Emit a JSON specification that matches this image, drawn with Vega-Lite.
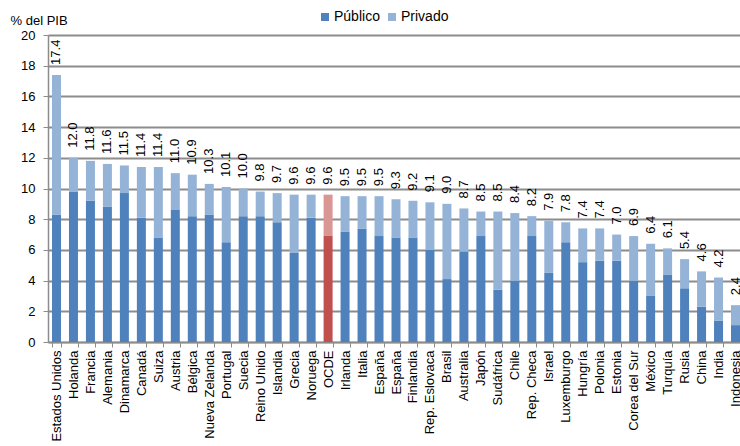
{
  "$schema": "https://vega.github.io/schema/vega-lite/v6.json",
  "autosize": {"type": "none"},
  "padding": {"left": 48, "top": 35, "right": 0, "bottom": 104},
  "width": 696,
  "height": 307,
  "config": {
    "font": "Liberation Sans",
    "view": {"stroke": null},
    "axis": {"labelColor": "#000", "titleColor": "#000", "labelFontSize": 13, "titleFontSize": 13, "titleFontWeight": "normal"},
    "axisY": {
      "title": "% del PIB",
      "titleAngle": 0,
      "titleAlign": "left",
      "titleBaseline": "middle",
      "titleX": -38,
      "titleY": -15,
      "values": [0, 2, 4, 6, 8, 10, 12, 14, 16, 18, 20],
      "labelOverlap": false,
      "grid": true,
      "gridColor": "#8c8c8c",
      "gridWidth": 2,
      "domainColor": "#8c8c8c",
      "domainWidth": 1.5,
      "tickColor": "#8c8c8c",
      "tickSize": 5,
      "labelPadding": 8
    },
    "legend": {"labelFontSize": 14, "labelColor": "#000"}
  },
  "data": {
    "values": [
      {"pais": "Estados Unidos", "Público": 8.3, "Privado": 9.1, "total": 17.4},
      {"pais": "Holanda", "Público": 9.8, "Privado": 2.2, "total": 12.0},
      {"pais": "Francia", "Público": 9.2, "Privado": 2.6, "total": 11.8},
      {"pais": "Alemania", "Público": 8.8, "Privado": 2.8, "total": 11.6},
      {"pais": "Dinamarca", "Público": 9.7, "Privado": 1.8, "total": 11.5},
      {"pais": "Canadá", "Público": 8.1, "Privado": 3.3, "total": 11.4},
      {"pais": "Suiza", "Público": 6.8, "Privado": 4.6, "total": 11.4},
      {"pais": "Austria", "Público": 8.6, "Privado": 2.4, "total": 11.0},
      {"pais": "Bélgica", "Público": 8.2, "Privado": 2.7, "total": 10.9},
      {"pais": "Nueva Zelanda", "Público": 8.3, "Privado": 2.0, "total": 10.3},
      {"pais": "Portugal", "Público": 6.5, "Privado": 3.6, "total": 10.1},
      {"pais": "Suecia", "Público": 8.2, "Privado": 1.8, "total": 10.0},
      {"pais": "Reino Unido", "Público": 8.2, "Privado": 1.6, "total": 9.8},
      {"pais": "Islandia", "Público": 7.8, "Privado": 1.9, "total": 9.7},
      {"pais": "Grecia", "Público": 5.8, "Privado": 3.8, "total": 9.6},
      {"pais": "Noruega", "Público": 8.1, "Privado": 1.5, "total": 9.6},
      {"pais": "OCDE", "Público": 6.9, "Privado": 2.7, "total": 9.6},
      {"pais": "Irlanda", "Público": 7.2, "Privado": 2.3, "total": 9.5},
      {"pais": "Italia", "Público": 7.4, "Privado": 2.1, "total": 9.5},
      {"pais": "España", "Público": 6.9, "Privado": 2.6, "total": 9.5},
      {"pais": "España\u200b", "Público": 6.8, "Privado": 2.5, "total": 9.3},
      {"pais": "Finlandia", "Público": 6.8, "Privado": 2.4, "total": 9.2},
      {"pais": "Rep. Eslovaca", "Público": 6.0, "Privado": 3.1, "total": 9.1},
      {"pais": "Brasil", "Público": 4.1, "Privado": 4.9, "total": 9.0},
      {"pais": "Australia", "Público": 5.9, "Privado": 2.8, "total": 8.7},
      {"pais": "Japón", "Público": 6.9, "Privado": 1.6, "total": 8.5},
      {"pais": "Sudáfrica", "Público": 3.4, "Privado": 5.1, "total": 8.5},
      {"pais": "Chile", "Público": 4.0, "Privado": 4.4, "total": 8.4},
      {"pais": "Rep. Checa", "Público": 6.9, "Privado": 1.3, "total": 8.2},
      {"pais": "Israel", "Público": 4.5, "Privado": 3.4, "total": 7.9},
      {"pais": "Luxemburgo", "Público": 6.5, "Privado": 1.3, "total": 7.8},
      {"pais": "Hungría", "Público": 5.2, "Privado": 2.2, "total": 7.4},
      {"pais": "Polonia", "Público": 5.3, "Privado": 2.1, "total": 7.4},
      {"pais": "Estonia", "Público": 5.3, "Privado": 1.7, "total": 7.0},
      {"pais": "Corea del Sur", "Público": 4.0, "Privado": 2.9, "total": 6.9},
      {"pais": "México", "Público": 3.0, "Privado": 3.4, "total": 6.4},
      {"pais": "Turquía", "Público": 4.4, "Privado": 1.7, "total": 6.1},
      {"pais": "Rusia", "Público": 3.5, "Privado": 1.9, "total": 5.4},
      {"pais": "China", "Público": 2.3, "Privado": 2.3, "total": 4.6},
      {"pais": "India", "Público": 1.4, "Privado": 2.8, "total": 4.2},
      {"pais": "Indonesia", "Público": 1.1, "Privado": 1.3, "total": 2.4}
    ]
  },
  "encoding": {
    "x": {
      "field": "pais",
      "type": "nominal",
      "sort": null,
      "scale": {"paddingInner": 0.47, "paddingOuter": 0.235},
      "axis": {
        "title": null,
        "labelAngle": -90,
        "labelPadding": 3,
        "labelOverlap": false,
        "tickBand": "extent",
        "tickSize": 5,
        "tickColor": "#8c8c8c",
        "domainColor": "#8c8c8c",
        "domainWidth": 1.5,
        "grid": false
      }
    }
  },
  "layer": [
    {
      "transform": [{"fold": ["Público", "Privado"], "as": ["tipo", "valor"]}],
      "mark": {"type": "bar"},
      "encoding": {
        "y": {
          "field": "valor",
          "type": "quantitative",
          "stack": "zero",
          "scale": {"domain": [0, 20], "nice": false},
          "title": "% del PIB"
        },
        "order": {"field": "tipo", "sort": "descending"},
        "color": {
          "field": "tipo",
          "type": "nominal",
          "scale": {"domain": ["Público", "Privado"], "range": ["#4f81bd", "#95b3d7"]},
          "condition": [
            {"test": "datum.pais === 'OCDE' && datum.tipo === 'Público'", "value": "#c0504d"},
            {"test": "datum.pais === 'OCDE'", "value": "#d99694"}
          ],
          "legend": {
            "title": null,
            "orient": "none",
            "direction": "horizontal",
            "legendX": 270,
            "legendY": -25,
            "symbolType": "square",
            "symbolSize": 64,
            "symbolStrokeWidth": 0,
            "labelOffset": 2,
            "columnPadding": 5,
            "padding": 0
          }
        }
      }
    },
    {
      "mark": {"type": "text", "angle": 270, "align": "left", "baseline": "middle", "dx": 10, "fontSize": 13, "color": "#000"},
      "encoding": {
        "y": {"field": "total", "type": "quantitative", "title": "% del PIB"},
        "text": {"field": "total", "type": "quantitative", "format": ".1f"},
        "fontWeight": {"condition": {"test": "datum.pais === 'OCDE'", "value": "bold"}, "value": "normal"}
      }
    }
  ]
}
